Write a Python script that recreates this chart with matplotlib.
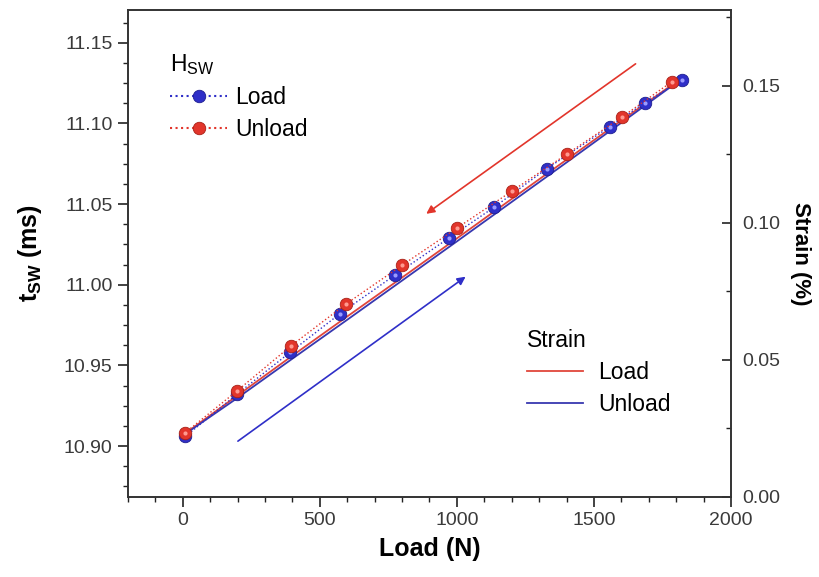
import matplotlib
matplotlib.use("Agg")
import matplotlib.pyplot as plt
from matplotlib.ticker import MultipleLocator, FormatStrFormatter
from matplotlib.lines import Line2D

plt.rcParams['font.family'] = ['Liberation Sans', 'DejaVu Sans']
plt.rcParams['mathtext.fontset'] = 'custom'
plt.rcParams['mathtext.rm'] = 'Liberation Sans'
plt.rcParams['mathtext.bf'] = 'Liberation Sans:bold'

# H_SW (left axis, ms)
load_n_up = [10, 197, 391, 573, 774, 971, 1135, 1328, 1558, 1686, 1821]
hsw_load = [10.906, 10.932, 10.958, 10.982, 11.006, 11.029, 11.048, 11.072, 11.098, 11.113, 11.127]
load_n_down = [7, 197, 394, 595, 799, 999, 1200, 1401, 1602, 1785]
hsw_unload = [10.908, 10.934, 10.962, 10.988, 11.012, 11.035, 11.058, 11.081, 11.104, 11.126]

# Strain (right axis, %)
strain_n = [10, 200, 400, 600, 800, 1000, 1200, 1400, 1600, 1820]
strain_load = [0.0232, 0.0370, 0.0515, 0.0658, 0.0800, 0.0943, 0.1087, 0.1230, 0.1373, 0.1528]
strain_unload = [0.0230, 0.0361, 0.0504, 0.0646, 0.0789, 0.0932, 0.1076, 0.1220, 0.1365, 0.1525]

red = '#e2352b'
blue = '#2f2fc8'
red_line = '#e0463c'
blue_line = '#3838b0'

fig, ax = plt.subplots(figsize=(8.2, 5.77), dpi=100)
fig.subplots_adjust(left=0.156, right=0.8915, top=0.983, bottom=0.139)
ax2 = ax.twinx()

# strain lines
ax2.plot(strain_n, strain_load, color=red_line, lw=1.3)
ax2.plot(strain_n, strain_unload, color=blue_line, lw=1.3)

# H_SW points
ax.plot(load_n_up, hsw_load, ls=':', lw=1.0, color=blue, marker='o', ms=9,
        mfc=blue, mec='#1e1e90', mew=0.6, zorder=3)
ax.plot(load_n_down, hsw_unload, ls=':', lw=1.0, color=red, marker='o', ms=9,
        mfc=red, mec='#a82016', mew=0.6, zorder=4)
# glossy highlight
ax.plot(load_n_up, hsw_load, ls='none', marker='o', ms=3, mfc='#9a9aff', mec='none', zorder=3.5)
ax.plot(load_n_down, hsw_unload, ls='none', marker='o', ms=3, mfc='#ff9a90', mec='none', zorder=4.5)
ax.set_zorder(ax2.get_zorder() + 1)
ax.patch.set_visible(False)

# direction arrows
arrow_red = [(1660, 11.138), (880, 11.043)]
arrow_blue = [(193, 10.902), (1040, 11.006)]
ax.annotate('', xy=arrow_red[1], xytext=arrow_red[0],
            arrowprops=dict(arrowstyle='-|>', color=red, lw=1.2, mutation_scale=12))
ax.annotate('', xy=arrow_blue[1], xytext=arrow_blue[0],
            arrowprops=dict(arrowstyle='-|>', color=blue, lw=1.2, mutation_scale=12))

ax.set_xlim(-200, 2000)
ax.set_ylim(10.8685, 11.1705)
ax2.set_ylim(0, 0.1777)

ax.xaxis.set_major_locator(MultipleLocator(500))
ax.xaxis.set_minor_locator(MultipleLocator(100))
ax.yaxis.set_major_locator(MultipleLocator(0.05))
ax.yaxis.set_minor_locator(MultipleLocator(0.0125))
ax2.yaxis.set_major_locator(MultipleLocator(0.05))
ax2.yaxis.set_minor_locator(MultipleLocator(0.025))
ax.yaxis.set_major_formatter(FormatStrFormatter('%.2f'))
ax2.yaxis.set_major_formatter(FormatStrFormatter('%.2f'))

ax.tick_params(axis='both', which='major', length=7, width=1.2, pad=4, labelsize=14,
               colors='#222222', labelcolor='#3a3a3a')
ax.tick_params(axis='both', which='minor', length=3.6, width=1.0, colors='#222222')
ax2.tick_params(axis='y', which='major', direction='in', length=6.5, width=1.2, pad=8, labelsize=14,
                colors='#222222', labelcolor='#3a3a3a')
ax2.tick_params(axis='y', which='minor', direction='in', length=3.6, width=1.0, colors='#222222')
for a in (ax, ax2):
    for s in a.spines.values():
        s.set_linewidth(1.2)
        s.set_color('#333333')

ax.set_xlabel('Load (N)', fontsize=18, fontweight='bold', labelpad=6)
ax.set_ylabel('t$_{\\mathbf{SW}}$ (ms)', fontsize=18, fontweight='bold', labelpad=14)
ax2.set_ylabel('Strain (%)', fontsize=16, fontweight='bold', rotation=-90, labelpad=22)

h1 = [Line2D([], [], ls=':', color=blue, marker='o', ms=9, mfc=blue, mec='#1e1e90', mew=0.6),
      Line2D([], [], ls=':', color=red, marker='o', ms=9, mfc=red, mec='#a82016', mew=0.6)]
leg1 = ax.legend(h1, ['Load', 'Unload'], title='H$_{\\mathrm{SW}}$', loc='upper left',
                 bbox_to_anchor=(0.0697, 0.914), borderaxespad=0, borderpad=0,
                 frameon=False, fontsize=16.5, title_fontsize=16.5,
                 alignment='left', handlelength=2.5, handletextpad=0.35, labelspacing=0.4)
h2 = [Line2D([], [], color=red_line, lw=1.3), Line2D([], [], color=blue_line, lw=1.3)]
leg2 = ax2.legend(h2, ['Load', 'Unload'], title='Strain', loc='upper left',
                  bbox_to_anchor=(0.662, 0.345), borderaxespad=0, borderpad=0,
                  frameon=False, fontsize=16.5, title_fontsize=16.5,
                  alignment='left', handlelength=2.45, handletextpad=0.65, labelspacing=0.4)

fig.savefig('out.png', dpi=100)
